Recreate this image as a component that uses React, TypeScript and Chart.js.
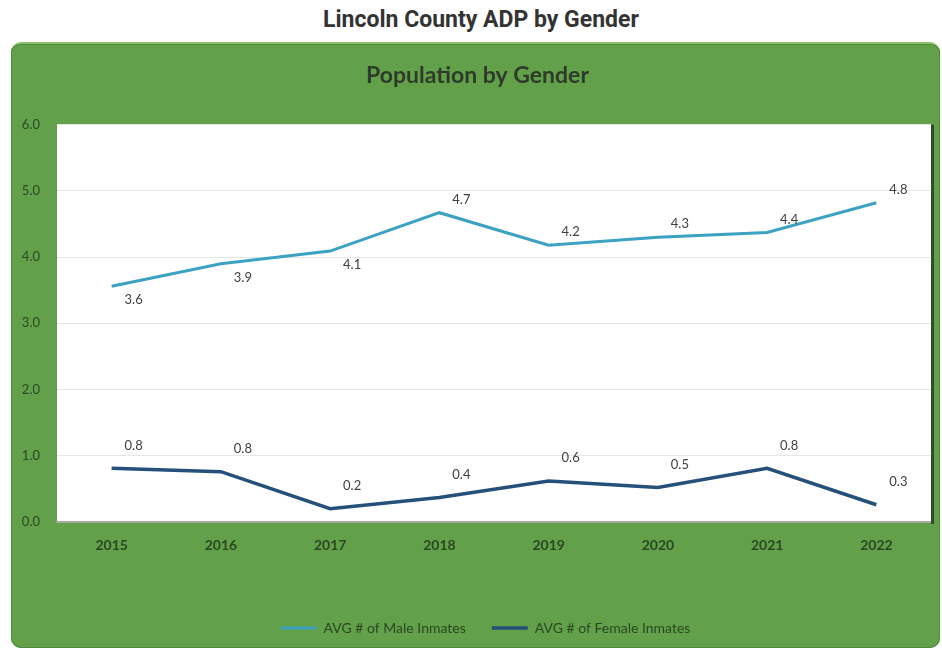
import React, { useEffect, useRef } from "react";
import { Chart, registerables } from "chart.js";

Chart.register(...registerables);

const categories = ["2015", "2016", "2017", "2018", "2019", "2020", "2021", "2022"];
const maleValues = [3.56, 3.9, 4.09, 4.67, 4.18, 4.3, 4.37, 4.82];
const femaleValues = [0.81, 0.76, 0.2, 0.37, 0.62, 0.52, 0.81, 0.26];
const maleLabelSide = ["below", "below", "below", "above", "above", "above", "above", "above"];
const femaleLabelSide = ["above", "above", "above", "above", "above", "above", "above", "above"];
const yTicks = [0, 1, 2, 3, 4, 5, 6];

const GREEN_TEXT = "#2b4724";

const pointLabels = {
  id: "pointLabels",
  afterDatasetsDraw(chart: any) {
    const ctx = chart.ctx;
    ctx.save();
    ctx.font = "13px Lato, sans-serif";
    ctx.fillStyle = "#404040";
    ctx.textAlign = "center";
    ctx.textBaseline = "middle";
    chart.data.datasets.forEach((ds: any, di: number) => {
      const meta = chart.getDatasetMeta(di);
      const sides = ds.labelSide as string[];
      meta.data.forEach((el: any, i: number) => {
        const v = ds.data[i] as number;
        const above = sides[i] === "above";
        const dy = di === 1 ? -23 : above ? -13 : 14;
        ctx.fillText(v.toFixed(1), el.x + 22, el.y + dy);
      });
    });
    ctx.restore();
  },
};

const shiftBlocks = {
  id: "shiftBlocks",
  afterLayout(chart: any) {
    if (chart.legend) {
      chart.legend.left += 14;
      chart.legend.right += 14;
    }
    if (chart.titleBlock) {
      chart.titleBlock.left += 6;
      chart.titleBlock.right += 6;
    }
  },
};

const plotBg = {
  id: "plotBg",
  beforeDraw(chart: any) {
    const { ctx, chartArea } = chart;
    ctx.save();
    ctx.fillStyle = "#ffffff";
    ctx.fillRect(chartArea.left, chartArea.top, chartArea.right - chartArea.left, chartArea.bottom - chartArea.top);
    ctx.restore();
  },
  afterDraw(chart: any) {
    const { ctx, chartArea } = chart;
    ctx.save();
    ctx.fillStyle = "#2f4d26";
    ctx.fillRect(chartArea.right, chartArea.top, 3, chartArea.bottom - chartArea.top + 2);
    ctx.restore();
  },
};

function GenderChart() {
  const ref = useRef<HTMLCanvasElement | null>(null);
  useEffect(() => {
    if (!ref.current) return;
    const chart = new Chart(ref.current, {
      type: "line",
      data: {
        labels: categories,
        datasets: [
          {
            label: "AVG # of Male Inmates",
            data: maleValues,
            borderColor: "#3ca2c2",
            backgroundColor: "#3ca2c2",
            borderWidth: 3,
            pointRadius: 0,
            pointStyle: "line",
            tension: 0,
            labelSide: maleLabelSide,
          } as any,
          {
            label: "AVG # of Female Inmates",
            data: femaleValues,
            borderColor: "#25507a",
            backgroundColor: "#25507a",
            borderWidth: 3.5,
            pointRadius: 0,
            pointStyle: "line",
            tension: 0,
            labelSide: femaleLabelSide,
          } as any,
        ],
      },
      options: {
        animation: false,
        responsive: false,
        layout: { padding: { top: 20, right: 9, bottom: 3, left: 0 } },
        plugins: {
          title: {
            display: true,
            text: "Population by Gender",
            color: "#2e3b2b",
            font: { family: "Lato, sans-serif", size: 23, weight: "bold" },
            padding: { top: 0, bottom: 35 },
          },
          legend: {
            position: "bottom",
            labels: {
              usePointStyle: true,
              pointStyleWidth: 36,
              color: GREEN_TEXT,
              font: { family: "Lato, sans-serif", size: 14 },
              padding: 26,
            },
          },
          tooltip: { enabled: false },
        },
        scales: {
          x: {
            offset: true,
            grid: { display: false, drawTicks: false, offset: true },
            border: { display: true, color: "#a8a8a8", width: 2 },
            ticks: {
              color: GREEN_TEXT,
              font: { family: "Lato, sans-serif", size: 14, weight: "bold" },
              padding: 15,
            },
            afterFit: (s: any) => {
              s.height = 73;
            },
          },
          y: {
            min: 0,
            max: 6,
            grid: { color: "#e6e6e6", drawTicks: false },
            border: { display: false },
            afterBuildTicks: (s: any) => {
              s.ticks = yTicks.map((v) => ({ value: v }));
            },
            ticks: {
              color: GREEN_TEXT,
              font: { family: "Lato, sans-serif", size: 13 },
              padding: 17,
              callback: (v: any) => Number(v).toFixed(1),
            },
            afterFit: (s: any) => {
              s.width = 45;
            },
          },
        },
      } as any,
      plugins: [plotBg, pointLabels, shiftBlocks],
    });
    return () => chart.destroy();
  }, []);
  return <canvas ref={ref} width={928} height={606} style={{ width: 928, height: 606, display: "block" }} />;
}

export default function App() {
  return (
    <div style={{ position: "absolute", left: 0, top: 0, width: 942, height: 650, background: "#ffffff", overflow: "hidden" }}>
      <div
        style={{
          position: "absolute",
          left: 0,
          top: 5,
          width: 962,
          textAlign: "center",
          fontFamily: "Roboto, 'Liberation Sans', sans-serif",
          fontWeight: 700,
          fontSize: 23,
          color: "#333333",
          lineHeight: "30px",
        }}
      >
        Lincoln County ADP by Gender
      </div>
      <div
        style={{
          position: "absolute",
          left: 11,
          top: 42,
          width: 929,
          height: 606,
          background: "#62a04a",
          borderRadius: 10,
          borderTop: "2px solid #8cc06f",
          boxSizing: "border-box",
          boxShadow: "inset 0 0 0 1px #4f8a3a",
          overflow: "hidden",
        }}
      >
        <div style={{ position: "absolute", left: 1, top: -2 }}>
          <GenderChart />
        </div>
      </div>
    </div>
  );
}
